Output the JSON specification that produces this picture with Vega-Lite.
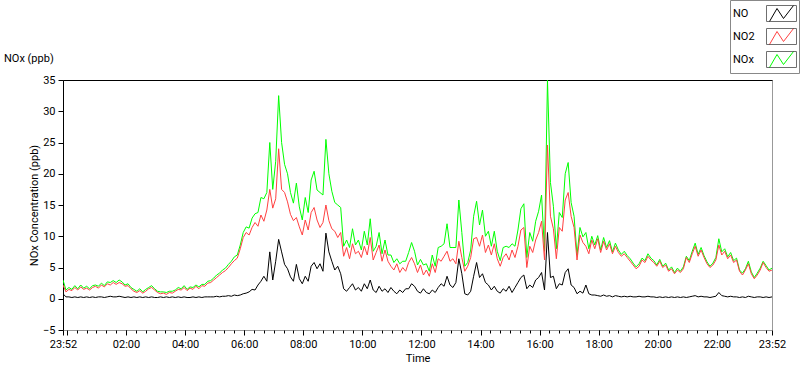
{
  "$schema": "https://vega.github.io/schema/vega-lite/v6.json",
  "width": 709,
  "height": 250,
  "autosize": {"type": "none"},
  "padding": {"left": 63, "top": 80, "right": 28, "bottom": 39},
  "background": "#ffffff",
  "title": {"text": "NOx (ppb)", "anchor": "start", "frame": "group", "dx": -59, "offset": -64, "fontSize": 11, "font": "Roboto", "fontWeight": "normal", "color": "#000000"},
  "datasets": {
    "d": [
      {"t":0,"NO":0.8,"NO2":2.2,"NOx":3.0},{"t":6,"NO":0.3,"NO2":1.1,"NOx":1.4},{"t":12,"NO":0.3,"NO2":1.5,"NOx":1.8},{"t":18,"NO":0.2,"NO2":1.3,"NOx":1.5},{"t":24,"NO":0.3,"NO2":1.8,"NOx":2.1},{"t":30,"NO":0.2,"NO2":1.4,"NOx":1.6},{"t":36,"NO":0.3,"NO2":1.9,"NOx":2.2},{"t":42,"NO":0.2,"NO2":1.5,"NOx":1.7},{"t":48,"NO":0.3,"NO2":1.7,"NOx":2.0},{"t":54,"NO":0.2,"NO2":1.4,"NOx":1.6},
      {"t":60,"NO":0.3,"NO2":1.8,"NOx":2.1},{"t":66,"NO":0.2,"NO2":2.0,"NOx":2.2},{"t":72,"NO":0.3,"NO2":1.7,"NOx":2.0},{"t":78,"NO":0.3,"NO2":2.2,"NOx":2.5},{"t":84,"NO":0.2,"NO2":1.9,"NOx":2.1},{"t":90,"NO":0.3,"NO2":2.4,"NOx":2.7},{"t":96,"NO":0.4,"NO2":2.2,"NOx":2.6},{"t":102,"NO":0.3,"NO2":2.6,"NOx":2.9},{"t":108,"NO":0.3,"NO2":2.3,"NOx":2.6},{"t":114,"NO":0.4,"NO2":2.6,"NOx":3.0},
      {"t":120,"NO":0.3,"NO2":2.4,"NOx":2.7},{"t":126,"NO":0.2,"NO2":2.0,"NOx":2.2},{"t":132,"NO":0.3,"NO2":2.1,"NOx":2.4},{"t":138,"NO":0.2,"NO2":1.6,"NOx":1.8},{"t":144,"NO":0.3,"NO2":1.2,"NOx":1.5},{"t":150,"NO":0.2,"NO2":1.0,"NOx":1.2},{"t":156,"NO":0.3,"NO2":1.3,"NOx":1.6},{"t":162,"NO":0.2,"NO2":0.9,"NOx":1.1},{"t":168,"NO":0.3,"NO2":1.2,"NOx":1.5},{"t":174,"NO":0.2,"NO2":1.6,"NOx":1.8},
      {"t":180,"NO":0.3,"NO2":1.8,"NOx":2.1},{"t":186,"NO":0.2,"NO2":1.4,"NOx":1.6},{"t":192,"NO":0.2,"NO2":1.0,"NOx":1.2},{"t":198,"NO":0.3,"NO2":0.8,"NOx":1.1},{"t":204,"NO":0.2,"NO2":0.9,"NOx":1.1},{"t":210,"NO":0.3,"NO2":0.7,"NOx":1.0},{"t":216,"NO":0.2,"NO2":1.0,"NOx":1.2},{"t":222,"NO":0.3,"NO2":0.9,"NOx":1.2},{"t":228,"NO":0.2,"NO2":1.2,"NOx":1.4},{"t":234,"NO":0.3,"NO2":1.5,"NOx":1.8},
      {"t":240,"NO":0.2,"NO2":1.4,"NOx":1.6},{"t":246,"NO":0.3,"NO2":1.8,"NOx":2.1},{"t":252,"NO":0.2,"NO2":1.3,"NOx":1.5},{"t":258,"NO":0.2,"NO2":1.7,"NOx":1.9},{"t":264,"NO":0.3,"NO2":1.5,"NOx":1.8},{"t":270,"NO":0.2,"NO2":2.0,"NOx":2.2},{"t":276,"NO":0.3,"NO2":1.6,"NOx":1.9},{"t":282,"NO":0.2,"NO2":2.1,"NOx":2.3},{"t":288,"NO":0.3,"NO2":2.0,"NOx":2.3},{"t":294,"NO":0.3,"NO2":2.5,"NOx":2.8},
      {"t":300,"NO":0.3,"NO2":2.6,"NOx":2.9},{"t":306,"NO":0.3,"NO2":3.0,"NOx":3.3},{"t":312,"NO":0.4,"NO2":3.4,"NOx":3.8},{"t":318,"NO":0.3,"NO2":3.8,"NOx":4.1},{"t":324,"NO":0.4,"NO2":4.2,"NOx":4.6},{"t":330,"NO":0.4,"NO2":4.5,"NOx":4.9},{"t":336,"NO":0.5,"NO2":5.0,"NOx":5.5},{"t":342,"NO":0.4,"NO2":5.6,"NOx":6.0},{"t":348,"NO":0.6,"NO2":6.1,"NOx":6.7},{"t":354,"NO":0.5,"NO2":6.5,"NOx":7.0},
      {"t":360,"NO":0.6,"NO2":8.0,"NOx":8.6},{"t":366,"NO":0.8,"NO2":9.8,"NOx":10.6},{"t":372,"NO":0.9,"NO2":10.6,"NOx":11.5},{"t":378,"NO":1.1,"NO2":10.2,"NOx":11.3},{"t":384,"NO":1.5,"NO2":11.4,"NOx":12.9},{"t":390,"NO":1.4,"NO2":12.2,"NOx":13.6},{"t":396,"NO":2.2,"NO2":11.6,"NOx":13.8},{"t":402,"NO":2.8,"NO2":13.4,"NOx":16.2},{"t":408,"NO":3.6,"NO2":12.4,"NOx":16.0},{"t":414,"NO":2.8,"NO2":14.2,"NOx":17.0},
      {"t":420,"NO":7.5,"NO2":17.5,"NOx":25.0},{"t":426,"NO":3.0,"NO2":14.5,"NOx":17.5},{"t":432,"NO":6.0,"NO2":16.0,"NOx":22.0},{"t":438,"NO":9.5,"NO2":24.0,"NOx":32.5},{"t":444,"NO":7.5,"NO2":17.5,"NOx":25.0},{"t":450,"NO":5.5,"NO2":17.0,"NOx":21.5},{"t":456,"NO":4.8,"NO2":15.5,"NOx":20.0},{"t":462,"NO":3.5,"NO2":13.5,"NOx":17.0},{"t":468,"NO":2.8,"NO2":12.5,"NOx":15.3},{"t":474,"NO":5.5,"NO2":13.0,"NOx":18.5},
      {"t":480,"NO":3.2,"NO2":11.5,"NOx":14.7},{"t":486,"NO":2.4,"NO2":10.2,"NOx":12.6},{"t":492,"NO":3.6,"NO2":12.6,"NOx":16.2},{"t":498,"NO":2.8,"NO2":11.0,"NOx":13.8},{"t":504,"NO":5.2,"NO2":13.8,"NOx":19.0},{"t":510,"NO":5.8,"NO2":14.6,"NOx":20.4},{"t":516,"NO":4.8,"NO2":12.6,"NOx":17.4},{"t":522,"NO":5.6,"NO2":11.4,"NOx":17.0},{"t":528,"NO":4.4,"NO2":12.2,"NOx":16.6},{"t":534,"NO":10.5,"NO2":15.0,"NOx":25.5},
      {"t":540,"NO":7.5,"NO2":12.5,"NOx":20.0},{"t":546,"NO":6.0,"NO2":11.2,"NOx":17.2},{"t":552,"NO":4.6,"NO2":10.8,"NOx":15.4},{"t":558,"NO":5.2,"NO2":9.8,"NOx":15.0},{"t":564,"NO":4.0,"NO2":10.6,"NOx":14.6},{"t":570,"NO":1.6,"NO2":6.8,"NOx":8.4},{"t":576,"NO":1.2,"NO2":8.2,"NOx":9.4},{"t":582,"NO":1.8,"NO2":6.4,"NOx":8.2},{"t":588,"NO":2.4,"NO2":8.8,"NOx":11.2},{"t":594,"NO":1.4,"NO2":7.2,"NOx":8.6},
      {"t":600,"NO":1.8,"NO2":7.6,"NOx":9.4},{"t":606,"NO":1.2,"NO2":6.6,"NOx":7.8},{"t":612,"NO":2.4,"NO2":8.4,"NOx":10.8},{"t":618,"NO":1.6,"NO2":7.0,"NOx":8.6},{"t":624,"NO":3.0,"NO2":9.8,"NOx":12.8},{"t":630,"NO":1.4,"NO2":6.2,"NOx":7.6},{"t":636,"NO":1.0,"NO2":7.4,"NOx":8.4},{"t":642,"NO":2.0,"NO2":8.6,"NOx":10.6},{"t":648,"NO":1.2,"NO2":6.0,"NOx":7.2},{"t":654,"NO":1.6,"NO2":7.8,"NOx":9.4},
      {"t":660,"NO":1.0,"NO2":6.0,"NOx":7.0},{"t":666,"NO":1.8,"NO2":5.2,"NOx":7.0},{"t":672,"NO":1.2,"NO2":4.6,"NOx":5.8},{"t":678,"NO":0.8,"NO2":5.6,"NOx":6.4},{"t":684,"NO":1.4,"NO2":4.2,"NOx":5.6},{"t":690,"NO":1.0,"NO2":5.0,"NOx":6.0},{"t":696,"NO":1.6,"NO2":4.4,"NOx":6.0},{"t":702,"NO":1.6,"NO2":5.8,"NOx":7.4},{"t":708,"NO":2.4,"NO2":6.6,"NOx":9.0},{"t":714,"NO":2.0,"NO2":5.6,"NOx":7.6},
      {"t":720,"NO":1.2,"NO2":4.2,"NOx":5.4},{"t":726,"NO":0.9,"NO2":5.4,"NOx":6.3},{"t":732,"NO":1.6,"NO2":3.8,"NOx":5.4},{"t":738,"NO":1.0,"NO2":4.6,"NOx":5.6},{"t":744,"NO":0.8,"NO2":3.6,"NOx":4.4},{"t":750,"NO":1.4,"NO2":5.6,"NOx":7.0},{"t":756,"NO":1.0,"NO2":4.2,"NOx":5.2},{"t":762,"NO":1.8,"NO2":6.4,"NOx":8.2},{"t":768,"NO":2.4,"NO2":6.0,"NOx":8.4},{"t":774,"NO":2.0,"NO2":6.8,"NOx":8.8},
      {"t":780,"NO":3.6,"NO2":7.6,"NOx":12.0},{"t":786,"NO":2.2,"NO2":6.0,"NOx":8.2},{"t":792,"NO":1.8,"NO2":6.4,"NOx":8.2},{"t":798,"NO":2.6,"NO2":5.6,"NOx":8.2},{"t":804,"NO":6.4,"NO2":9.2,"NOx":15.8},{"t":810,"NO":4.0,"NO2":6.6,"NOx":10.6},{"t":816,"NO":0.8,"NO2":4.4,"NOx":5.2},{"t":822,"NO":0.6,"NO2":5.2,"NOx":5.8},{"t":828,"NO":1.2,"NO2":6.6,"NOx":7.8},{"t":834,"NO":3.6,"NO2":9.6,"NOx":13.2},
      {"t":840,"NO":5.8,"NO2":9.8,"NOx":15.6},{"t":846,"NO":3.4,"NO2":8.4,"NOx":11.8},{"t":852,"NO":4.0,"NO2":10.2,"NOx":14.2},{"t":858,"NO":2.6,"NO2":7.4,"NOx":10.0},{"t":864,"NO":2.2,"NO2":8.6,"NOx":10.8},{"t":870,"NO":1.4,"NO2":7.0,"NOx":8.4},{"t":876,"NO":2.0,"NO2":8.8,"NOx":10.8},{"t":882,"NO":1.2,"NO2":6.4,"NOx":7.6},{"t":888,"NO":0.9,"NO2":5.2,"NOx":6.1},{"t":894,"NO":1.6,"NO2":6.6,"NOx":8.2},
      {"t":900,"NO":1.2,"NO2":7.2,"NOx":8.4},{"t":906,"NO":2.0,"NO2":6.2,"NOx":8.2},{"t":912,"NO":1.0,"NO2":7.8,"NOx":8.8},{"t":918,"NO":1.8,"NO2":6.6,"NOx":8.4},{"t":924,"NO":2.6,"NO2":8.4,"NOx":11.0},{"t":930,"NO":3.4,"NO2":11.0,"NOx":14.4},{"t":936,"NO":3.8,"NO2":11.4,"NOx":15.2},{"t":942,"NO":1.6,"NO2":5.0,"NOx":6.6},{"t":948,"NO":2.2,"NO2":8.4,"NOx":10.6},{"t":954,"NO":1.8,"NO2":7.4,"NOx":9.2},
      {"t":960,"NO":3.0,"NO2":9.4,"NOx":12.4},{"t":966,"NO":3.4,"NO2":10.6,"NOx":14.0},{"t":972,"NO":4.2,"NO2":12.4,"NOx":16.6},{"t":978,"NO":1.4,"NO2":6.2,"NOx":7.6},{"t":984,"NO":10.6,"NO2":24.6,"NOx":35.0},{"t":990,"NO":3.4,"NO2":13.2,"NOx":18.6},{"t":996,"NO":3.6,"NO2":11.2,"NOx":14.8},{"t":1002,"NO":1.6,"NO2":6.4,"NOx":8.0},{"t":1008,"NO":2.4,"NO2":11.4,"NOx":13.8},{"t":1014,"NO":2.2,"NO2":10.8,"NOx":13.0},
      {"t":1020,"NO":4.2,"NO2":15.8,"NOx":20.0},{"t":1026,"NO":4.8,"NO2":17.0,"NOx":21.8},{"t":1032,"NO":2.2,"NO2":13.2,"NOx":15.4},{"t":1038,"NO":1.8,"NO2":11.4,"NOx":13.2},{"t":1044,"NO":0.8,"NO2":6.2,"NOx":7.0},{"t":1050,"NO":1.2,"NO2":10.2,"NOx":11.4},{"t":1056,"NO":0.9,"NO2":9.0,"NOx":9.9},{"t":1062,"NO":2.2,"NO2":8.4,"NOx":10.6},{"t":1068,"NO":0.8,"NO2":7.2,"NOx":8.0},{"t":1074,"NO":0.6,"NO2":9.4,"NOx":10.0},
      {"t":1080,"NO":0.6,"NO2":8.0,"NOx":8.6},{"t":1086,"NO":0.5,"NO2":9.6,"NOx":10.1},{"t":1092,"NO":0.4,"NO2":7.4,"NOx":7.8},{"t":1098,"NO":0.6,"NO2":9.2,"NOx":9.8},{"t":1104,"NO":0.4,"NO2":7.8,"NOx":8.2},{"t":1110,"NO":0.5,"NO2":8.8,"NOx":9.3},{"t":1116,"NO":0.3,"NO2":7.2,"NOx":7.5},{"t":1122,"NO":0.5,"NO2":8.4,"NOx":8.9},{"t":1128,"NO":0.4,"NO2":7.4,"NOx":7.8},{"t":1134,"NO":0.3,"NO2":6.8,"NOx":7.1},
      {"t":1140,"NO":0.4,"NO2":7.2,"NOx":7.6},{"t":1146,"NO":0.3,"NO2":6.6,"NOx":6.9},{"t":1152,"NO":0.4,"NO2":6.0,"NOx":6.4},{"t":1158,"NO":0.3,"NO2":5.4,"NOx":5.7},{"t":1164,"NO":0.3,"NO2":4.8,"NOx":5.1},{"t":1170,"NO":0.4,"NO2":5.2,"NOx":5.6},{"t":1176,"NO":0.3,"NO2":6.2,"NOx":6.5},{"t":1182,"NO":0.3,"NO2":5.8,"NOx":6.1},{"t":1188,"NO":0.4,"NO2":6.8,"NOx":7.2},{"t":1194,"NO":0.3,"NO2":6.2,"NOx":6.5},
      {"t":1200,"NO":0.3,"NO2":5.8,"NOx":6.1},{"t":1206,"NO":0.2,"NO2":5.2,"NOx":5.4},{"t":1212,"NO":0.3,"NO2":6.0,"NOx":6.3},{"t":1218,"NO":0.2,"NO2":5.0,"NOx":5.2},{"t":1224,"NO":0.3,"NO2":5.4,"NOx":5.7},{"t":1230,"NO":0.2,"NO2":4.4,"NOx":4.6},{"t":1236,"NO":0.3,"NO2":4.8,"NOx":5.1},{"t":1242,"NO":0.2,"NO2":4.0,"NOx":4.2},{"t":1248,"NO":0.3,"NO2":4.6,"NOx":4.9},{"t":1254,"NO":0.2,"NO2":4.2,"NOx":4.4},
      {"t":1260,"NO":0.3,"NO2":4.8,"NOx":5.1},{"t":1266,"NO":0.2,"NO2":6.6,"NOx":6.8},{"t":1272,"NO":0.3,"NO2":5.8,"NOx":6.1},{"t":1278,"NO":0.4,"NO2":7.2,"NOx":7.6},{"t":1284,"NO":0.5,"NO2":8.4,"NOx":8.9},{"t":1290,"NO":0.3,"NO2":6.8,"NOx":7.1},{"t":1296,"NO":0.4,"NO2":7.8,"NOx":8.2},{"t":1302,"NO":0.3,"NO2":6.6,"NOx":6.9},{"t":1308,"NO":0.3,"NO2":5.6,"NOx":5.9},{"t":1314,"NO":0.2,"NO2":5.0,"NOx":5.2},
      {"t":1320,"NO":0.3,"NO2":5.4,"NOx":5.7},{"t":1326,"NO":0.4,"NO2":6.2,"NOx":6.6},{"t":1332,"NO":1.0,"NO2":8.6,"NOx":9.6},{"t":1338,"NO":0.5,"NO2":7.0,"NOx":7.5},{"t":1344,"NO":0.4,"NO2":7.6,"NOx":8.0},{"t":1350,"NO":0.3,"NO2":6.4,"NOx":6.7},{"t":1356,"NO":0.4,"NO2":7.0,"NOx":7.4},{"t":1362,"NO":0.3,"NO2":5.8,"NOx":6.1},{"t":1368,"NO":0.3,"NO2":6.2,"NOx":6.5},{"t":1374,"NO":0.2,"NO2":4.4,"NOx":4.6},
      {"t":1380,"NO":0.3,"NO2":3.8,"NOx":4.1},{"t":1386,"NO":0.2,"NO2":4.6,"NOx":4.8},{"t":1392,"NO":0.4,"NO2":5.6,"NOx":6.0},{"t":1398,"NO":0.3,"NO2":4.0,"NOx":4.3},{"t":1404,"NO":0.2,"NO2":3.2,"NOx":3.4},{"t":1410,"NO":0.3,"NO2":3.8,"NOx":4.1},{"t":1416,"NO":0.3,"NO2":4.6,"NOx":4.9},{"t":1422,"NO":0.2,"NO2":5.8,"NOx":6.0},{"t":1428,"NO":0.3,"NO2":5.0,"NOx":5.3},{"t":1434,"NO":0.2,"NO2":4.4,"NOx":4.6},{"t":1440,"NO":0.3,"NO2":4.6,"NOx":4.9}
    ]
  },
  "data": {"name": "d"},
  "layer": [
    {
      "transform": [{"fold": ["NOx"], "as": ["series", "value"]}],
      "mark": {"type": "line", "strokeWidth": 1, "clip": true},
      "encoding": {
        "x": {"field": "t", "type": "quantitative", "scale": {"domain": [0, 1440], "nice": false, "zero": false},
          "axis": {"orient": "bottom", "values": [0, 8, 128, 248, 368, 488, 608, 728, 848, 968, 1088, 1208, 1328, 1440],
            "labelExpr": "datum.value == 8 ? '' : timeFormat(datetime(2000, 0, 1, 23, 52 + datum.value), '%H:%M')",
            "tickSize": 5, "labelPadding": 3, "domain": false, "grid": false, "labelOverlap": false, "labelFlush": false,
            "title": "Time", "titlePadding": 3}},
        "y": {"field": "value", "type": "quantitative", "scale": {"domain": [-5, 35], "nice": false, "zero": false},
          "axis": {"values": [-5, 0, 5, 10, 15, 20, 25, 30, 35], "tickSize": 5, "labelPadding": 3, "domain": true, "domainColor": "#000000",
            "grid": false, "title": "NOx Concentration (ppb)", "titlePadding": 3}},
        "color": {"field": "series", "type": "nominal",
          "scale": {"domain": ["NO", "NO2", "NOx"], "range": ["#000000", "#ff4040", "#00ff00"]},
          "legend": {"orient": "none", "legendX": 667, "legendY": -80, "title": null,
            "symbolType": "M-1.2,0.8L-0.45,-0.5L0.2,0.5L1.2,-0.8", "symbolSize": 400, "symbolStrokeWidth": 1,
            "symbolOffset": 38, "labelOffset": -59, "rowPadding": 2, "padding": 3,
            "strokeColor": "#888888", "fillColor": "#ffffff",
            "labelFontSize": 11, "labelFont": "Roboto", "labelColor": "#000000"}}
      }
    },
    {
      "transform": [{"fold": ["NO2"], "as": ["series", "value"]}],
      "mark": {"type": "line", "strokeWidth": 1, "clip": true},
      "encoding": {
        "x": {"field": "t", "type": "quantitative",
          "axis": {"orient": "bottom", "values": [28,48,68,88,108,128,148,168,188,208,228,248,268,288,308,328,348,368,388,408,428,448,468,488,508,528,548,568,588,608,628,648,668,688,708,728,748,768,788,808,828,848,868,888,908,928,948,968,988,1008,1028,1048,1068,1088,1108,1128,1148,1168,1188,1208,1228,1248,1268,1288,1308,1328,1348,1368,1388,1408,1428],
            "tickSize": 3, "labels": false, "domain": false, "grid": false, "title": null}},
        "y": {"field": "value", "type": "quantitative", "axis": null},
        "color": {"field": "series", "type": "nominal"}
      }
    },
    {
      "transform": [{"fold": ["NO"], "as": ["series", "value"]}],
      "mark": {"type": "line", "strokeWidth": 1, "clip": true},
      "encoding": {
        "x": {"field": "t", "type": "quantitative",
          "axis": {"orient": "top", "ticks": false, "labels": false, "domain": true, "domainColor": "#000000", "grid": false, "title": null}},
        "y": {"field": "value", "type": "quantitative", "axis": null},
        "color": {"field": "series", "type": "nominal"}
      }
    },
    {
      "transform": [{"fold": ["NO"], "as": ["series", "value"]}, {"filter": "false"}],
      "mark": {"type": "point", "filled": false, "color": "#000000"},
      "encoding": {
        "x": {"field": "t", "type": "quantitative", "axis": null},
        "y": {"field": "value", "type": "quantitative", "axis": null},
        "shape": {"field": "series", "type": "nominal",
          "scale": {"domain": ["a", "b", "c"], "range": ["M-1.5,-0.8H1.5V0.8H-1.5Z", "M-1.5,-0.8H1.5V0.8H-1.5Z", "M-1.5,-0.8H1.5V0.8H-1.5Z"]},
          "legend": {"orient": "none", "legendX": 667, "legendY": -80, "title": null, "symbolSize": 400, "symbolStrokeWidth": 1,
            "symbolStrokeColor": "#333333", "symbolFillColor": "transparent", "symbolOffset": 38, "labelOffset": -59,
            "rowPadding": 2, "padding": 3, "labelExpr": "''", "labelFontSize": 11, "labelFont": "Roboto"}}
      }
    }
  ],
  "resolve": {"axis": {"x": "independent", "y": "independent"}},
  "config": {
    "view": {"stroke": "#999999", "strokeWidth": 1},
    "font": "Roboto",
    "axis": {"labelFont": "Roboto", "labelFontSize": 11, "labelColor": "#000000", "titleFont": "Roboto", "titleFontSize": 11,
      "titleFontWeight": "normal", "titleColor": "#000000", "tickColor": "#000000", "grid": false}
  }
}
